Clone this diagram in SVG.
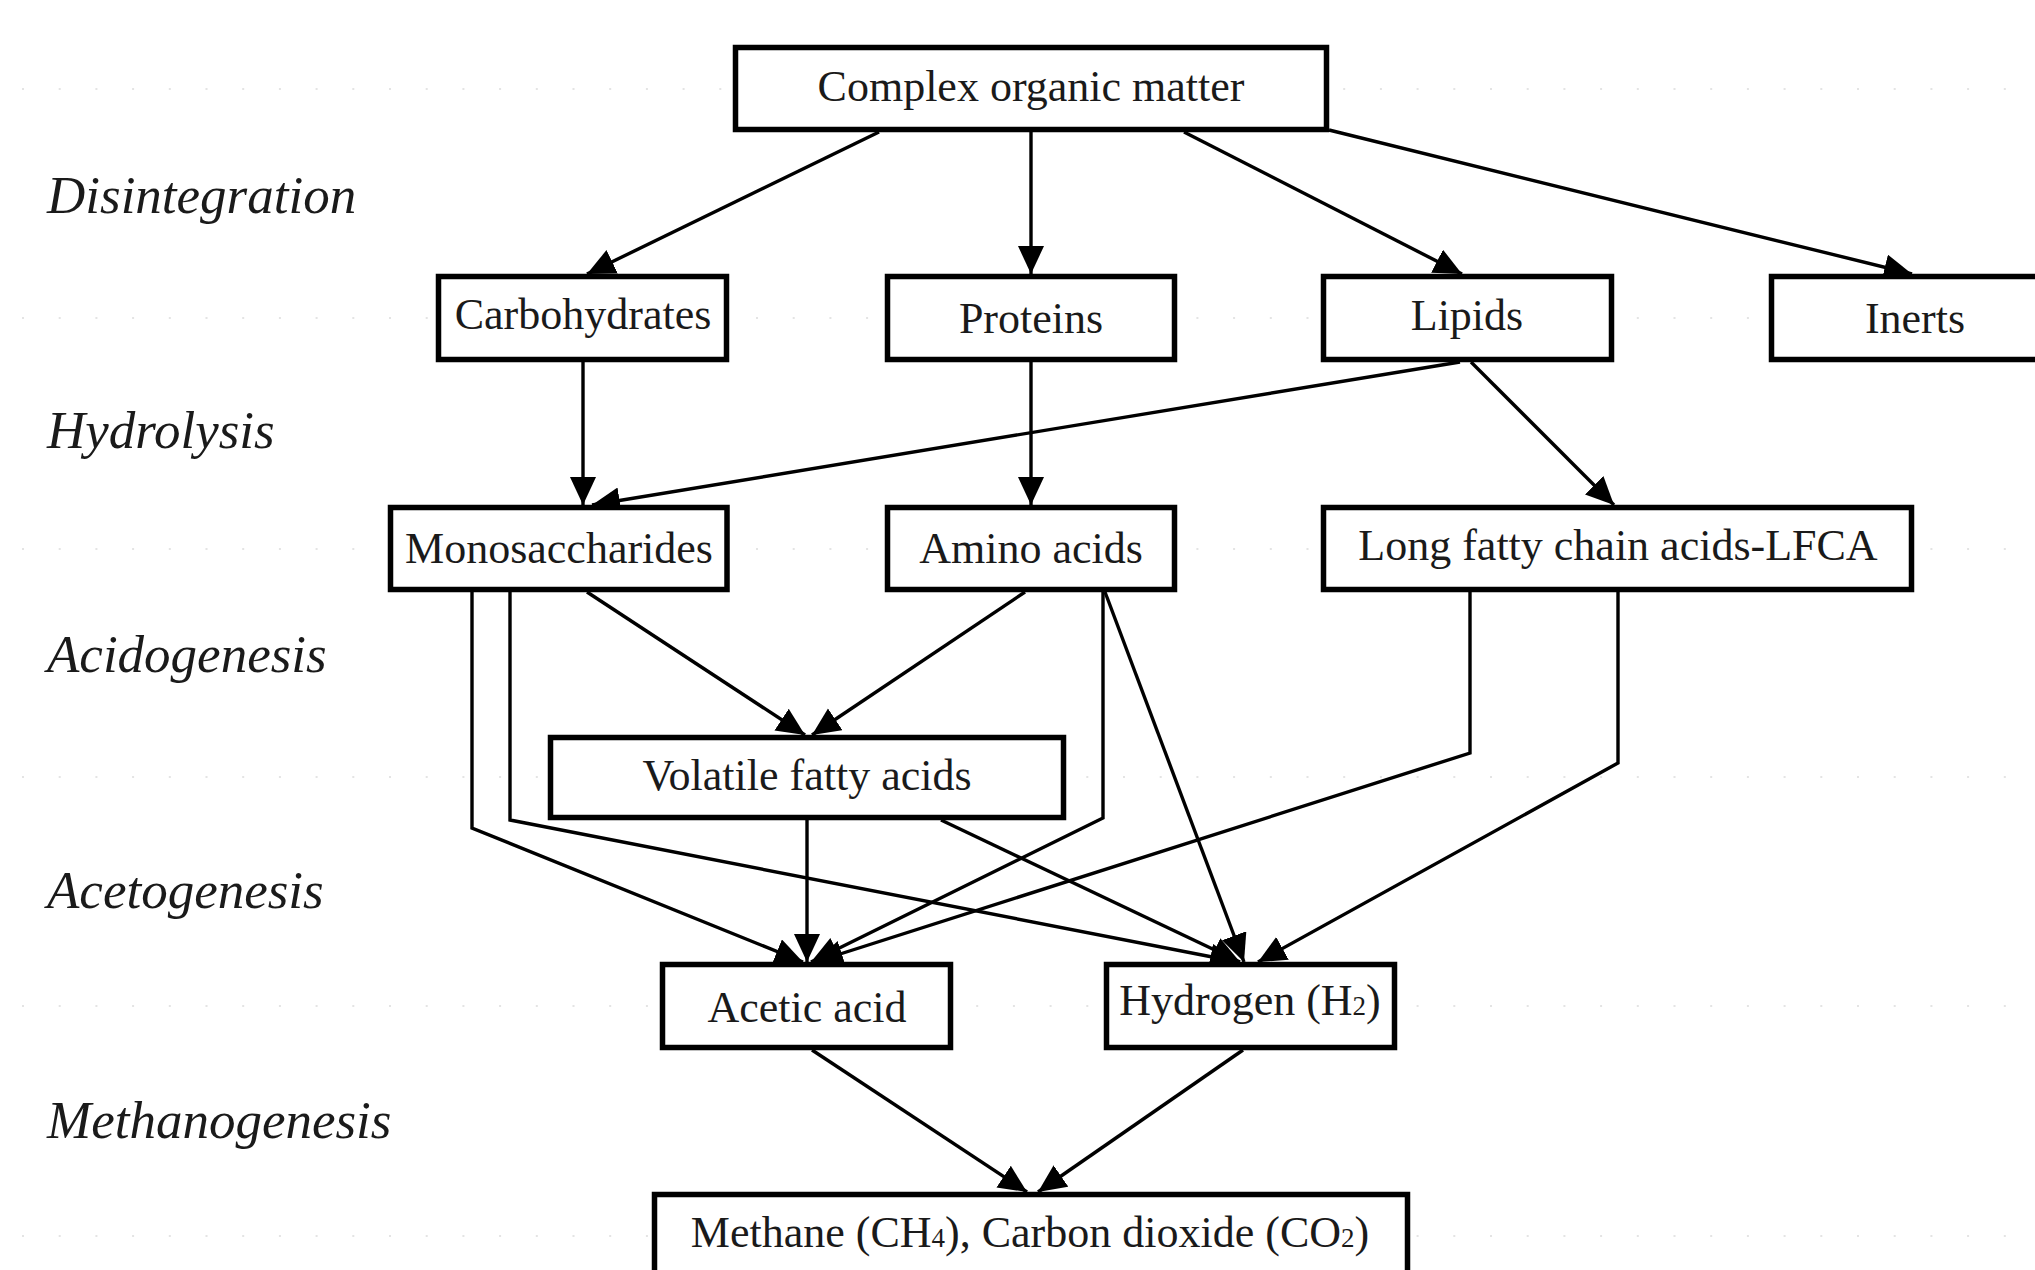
<svg xmlns="http://www.w3.org/2000/svg" width="2035" height="1270" viewBox="0 0 2035 1270">
<style>
.box{fill:#fff;stroke:#000;stroke-width:5.5}
.lbl{font-family:"Liberation Serif","Times New Roman",serif;font-size:44px;fill:#1a1a1a;text-anchor:middle}
.sub{font-size:27px}
.stage{font-family:"Liberation Serif","Times New Roman",serif;font-style:italic;font-size:53px;fill:#1a1a1a}
.edge{fill:none;stroke:#000;stroke-width:3.4;marker-end:url(#ah)}
.guide{stroke:#e4e4e4;stroke-width:2;stroke-dasharray:2 34.7}
</style>
<defs>
<marker id="ah" markerUnits="userSpaceOnUse" markerWidth="30" markerHeight="28" refX="28" refY="13" orient="auto">
<path d="M0,0 L28,13 L0,26 z" fill="#000"/>
</marker>
</defs>
<rect width="2035" height="1270" fill="#fff"/>
<g id="guides">
<line class="guide" x1="22" y1="89" x2="2035" y2="89"/>
<line class="guide" x1="22" y1="318" x2="2035" y2="318"/>
<line class="guide" x1="22" y1="549" x2="2035" y2="549"/>
<line class="guide" x1="22" y1="777" x2="2035" y2="777"/>
<line class="guide" x1="22" y1="1006" x2="2035" y2="1006"/>
<line class="guide" x1="22" y1="1236" x2="2035" y2="1236"/>
</g>
<g id="stages">
<text class="stage" x="47" y="213">Disintegration</text>
<text class="stage" x="47" y="448">Hydrolysis</text>
<text class="stage" x="47" y="672">Acidogenesis</text>
<text class="stage" x="47" y="908">Acetogenesis</text>
<text class="stage" x="47" y="1138">Methanogenesis</text>
</g>
<g id="connectors">
<path class="edge" d="M879,132 L587,274"/>
<path class="edge" d="M1031,132 L1031,274"/>
<path class="edge" d="M1184,132 L1462,274"/>
<path class="edge" d="M1329,130 L1912,274"/>
<path class="edge" d="M583,362 L583,505"/>
<path class="edge" d="M1031,362 L1031,505"/>
<path class="edge" d="M1460,362 L592,505"/>
<path class="edge" d="M1471,362 L1614,505"/>
<path class="edge" d="M587,592 L805,735"/>
<path class="edge" d="M1025,592 L812,735"/>
<path class="edge" d="M472,592 L472,828 L803,962"/>
<path class="edge" d="M510,592 L510,820 L1238,962"/>
<path class="edge" d="M1103,592 L1103,818 L811,962"/>
<path class="edge" d="M1105,592 L1244,962"/>
<path class="edge" d="M1470,592 L1470,753 L815,962"/>
<path class="edge" d="M1618,592 L1618,763 L1258,962"/>
<path class="edge" d="M807,820 L807,962"/>
<path class="edge" d="M941,820 L1240,962"/>
<path class="edge" d="M812,1050 L1027,1192"/>
<path class="edge" d="M1243,1050 L1038,1192"/>
</g>
<g id="n-complex"><rect class="box" x="735.5" y="47.5" width="591" height="82"/><text class="lbl" x="1031" y="101">Complex organic matter</text></g>
<g id="n-carbohydrates"><rect class="box" x="438.5" y="276.5" width="288" height="83"/><text class="lbl" x="583" y="329">Carbohydrates</text></g>
<g id="n-proteins"><rect class="box" x="887.5" y="276.5" width="287" height="83"/><text class="lbl" x="1031" y="333">Proteins</text></g>
<g id="n-lipids"><rect class="box" x="1323.5" y="276.5" width="288" height="83"/><text class="lbl" x="1467" y="330">Lipids</text></g>
<g id="n-inerts"><rect class="box" x="1771.5" y="276.5" width="290" height="83"/><text class="lbl" x="1915" y="333">Inerts</text></g>
<g id="n-mono"><rect class="box" x="390.5" y="507.5" width="336.5" height="82"/><text class="lbl" x="559" y="563">Monosaccharides</text></g>
<g id="n-amino"><rect class="box" x="887.5" y="507.5" width="287" height="82"/><text class="lbl" x="1031" y="563">Amino acids</text></g>
<g id="n-lfca"><rect class="box" x="1323.5" y="507.5" width="588" height="82"/><text class="lbl" x="1618" y="560">Long fatty chain acids-LFCA</text></g>
<g id="n-vfa"><rect class="box" x="550.5" y="737.5" width="513" height="80"/><text class="lbl" x="807" y="790">Volatile fatty acids</text></g>
<g id="n-acetic"><rect class="box" x="662.5" y="964.5" width="288" height="83"/><text class="lbl" x="807" y="1022">Acetic acid</text></g>
<g id="n-hydrogen"><rect class="box" x="1106.5" y="964.5" width="288" height="83"/><text class="lbl" x="1250" y="1015">Hydrogen (H<tspan class="sub">2</tspan>)</text></g>
<g id="n-methane"><rect class="box" x="654.5" y="1194.5" width="753" height="95"/><text class="lbl" x="1030" y="1247">Methane (CH<tspan class="sub">4</tspan>), Carbon dioxide (CO<tspan class="sub">2</tspan>)</text></g>
</svg>
